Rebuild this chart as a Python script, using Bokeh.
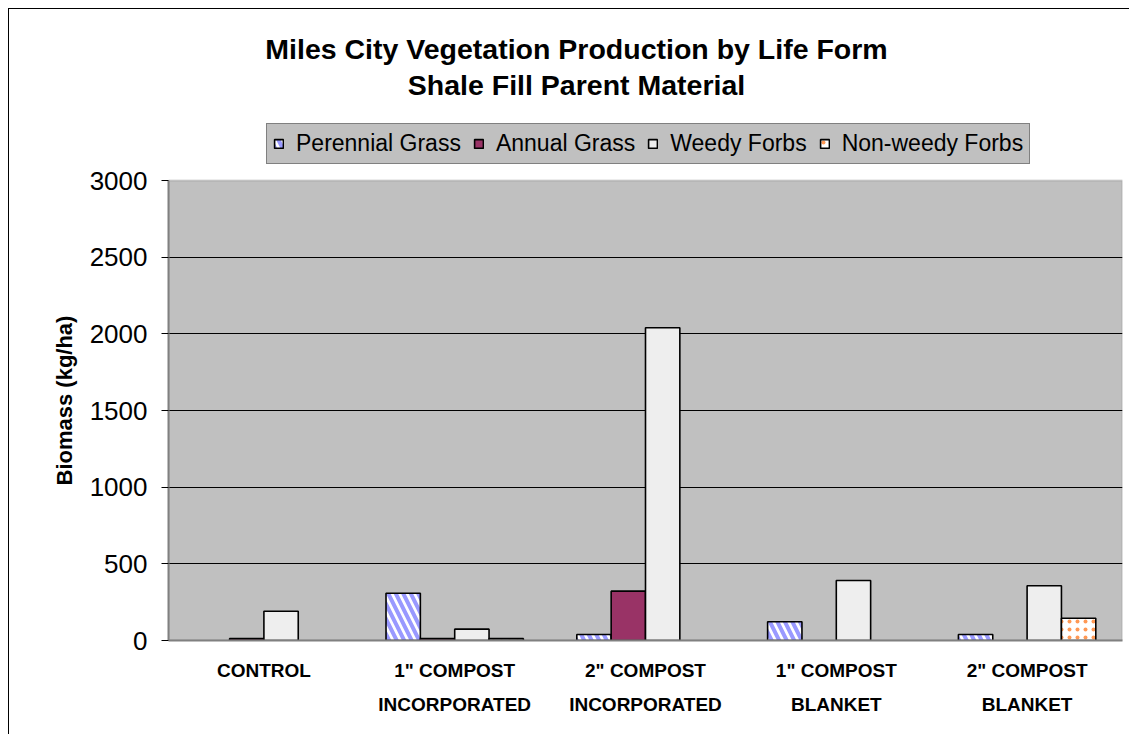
from bokeh.plotting import figure
from bokeh.models import (ColumnDataSource, FactorRange, Range1d, Legend, LegendItem,
                          Title, Label, BoxAnnotation, CDSView, BooleanFilter)
from bokeh.transform import dodge
from bokeh.embed import file_html
from bokeh.resources import INLINE

categories = ["CONTROL", "1\" COMPOST\nINCORPORATED", "2\" COMPOST\nINCORPORATED",
              "1\" COMPOST\nBLANKET", "2\" COMPOST\nBLANKET"]
series_names = ["Perennial Grass", "Annual Grass", "Weedy Forbs", "Non-weedy Forbs"]
perennial = [0, 308, 39, 122, 39]
annual = [12, 12, 322, 0, 0]
weedy = [191, 74, 2040, 391, 357]
nonweedy = [0, 12, 0, 0, 145]
y_ticks = [0, 500, 1000, 1500, 2000, 2500, 3000]
grid_ticks = [500, 1000, 1500, 2000, 2500]
y_min, y_max = 0, 3000
title_lines = ["Miles City Vegetation Production by Life Form", "Shale Fill Parent Material"]
y_title = "Biomass (kg/ha)"

FONT = "Liberation Sans"

# frame spans the whole canvas height above the axis; the gray plot area is 0..3000
FRAME_TOP, AREA_TOP, AREA_BOTTOM = 9, 180, 640
y_top = y_max * (AREA_BOTTOM - FRAME_TOP) / (AREA_BOTTOM - AREA_TOP)

source = ColumnDataSource(dict(cat=categories, perennial=perennial, annual=annual,
                               weedy=weedy, nonweedy=nonweedy))

p = figure(x_range=FactorRange(*categories), y_range=Range1d(y_min, y_top),
           width=1121, height=726, output_backend="svg", toolbar_location=None,
           min_border_left=159, min_border_right=8,
           min_border_top=0, min_border_bottom=95)
p.styles = {"margin-left": "8px", "margin-top": "8px",
            "border-left": "1px solid #000", "border-top": "1px solid #000"}

p.background_fill_color = "white"
p.border_fill_color = "white"
p.outline_line_color = None

area = BoxAnnotation(bottom=y_min, top=y_max, level="image", fill_color="#C0C0C0",
                     fill_alpha=1, line_color="#808080", line_width=2)
p.add_layout(area)

styles = [
    dict(fill_color="white", hatch_pattern="left_diagonal_line", hatch_color="#9999FF",
         hatch_scale=15, hatch_weight=4),
    dict(fill_color="#993366"),
    dict(fill_color="#EEEEEE"),
    dict(fill_color="white", hatch_pattern="dot", hatch_color="#FF9955",
         hatch_scale=8, hatch_weight=2.5),
]
cols = ["perennial", "annual", "weedy", "nonweedy"]
vals = [perennial, annual, weedy, nonweedy]
offsets = [-0.27, -0.09, 0.09, 0.27]

items = []
for name, col, v, off, st in zip(series_names, cols, vals, offsets, styles):
    view = CDSView(filter=BooleanFilter([x > 0 for x in v]))
    r = p.vbar(x=dodge("cat", off, range=p.x_range), top=col, width=0.18, source=source,
               view=view, line_color="black", line_width=1.6, **st)
    items.append(LegendItem(label=name, renderers=[r]))

legend = Legend(items=items, orientation="horizontal", location=(98, 476),
                background_fill_color="#C0C0C0", background_fill_alpha=1,
                border_line_color="#404040", border_line_width=1.5,
                label_text_font=FONT, label_text_font_size="23px", label_text_color="black",
                glyph_width=11, glyph_height=11, label_standoff=12, spacing=12,
                padding=6, margin=0)
p.add_layout(legend, "center")

for line, ty in zip(title_lines, [592, 556]):
    p.add_layout(Label(x=408, y=ty, x_units="screen", y_units="screen", text=line,
                       text_align="center", text_baseline="alphabetic", text_font=FONT,
                       text_font_size="28.5px", text_font_style="bold", text_color="black"))

ytitle = Title(text=y_title, align="left", offset=155, text_font=FONT,
               text_font_size="22px", text_font_style="bold", text_color="black",
               standoff=19)
p.add_layout(ytitle, "left")

p.xgrid.grid_line_color = None
p.ygrid.grid_line_color = "black"
p.ygrid.grid_line_width = 1
p.ygrid.ticker = grid_ticks

p.yaxis.ticker = y_ticks
p.yaxis.bounds = (y_min, y_max)
p.yaxis.axis_line_color = "#808080"
p.yaxis.axis_line_width = 2
p.yaxis.major_tick_line_color = "black"
p.yaxis.major_tick_out = 7
p.yaxis.major_tick_in = 0
p.yaxis.minor_tick_line_color = None
p.yaxis.major_label_text_font = FONT
p.yaxis.major_label_text_font_size = "26px"
p.yaxis.major_label_text_color = "black"
p.yaxis.major_label_standoff = 14

p.xaxis.axis_line_color = "#808080"
p.xaxis.axis_line_width = 2
p.xaxis.major_tick_line_color = None
p.xaxis.minor_tick_line_color = None
p.xaxis.major_label_text_font = FONT
p.xaxis.major_label_text_font_size = "19px"
p.xaxis.major_label_text_font_style = "bold"
p.xaxis.major_label_text_color = "black"
p.xaxis.major_label_text_line_height = 1.65
p.xaxis.major_label_standoff = 13

open("out.html", "w").write(file_html(p, INLINE))
